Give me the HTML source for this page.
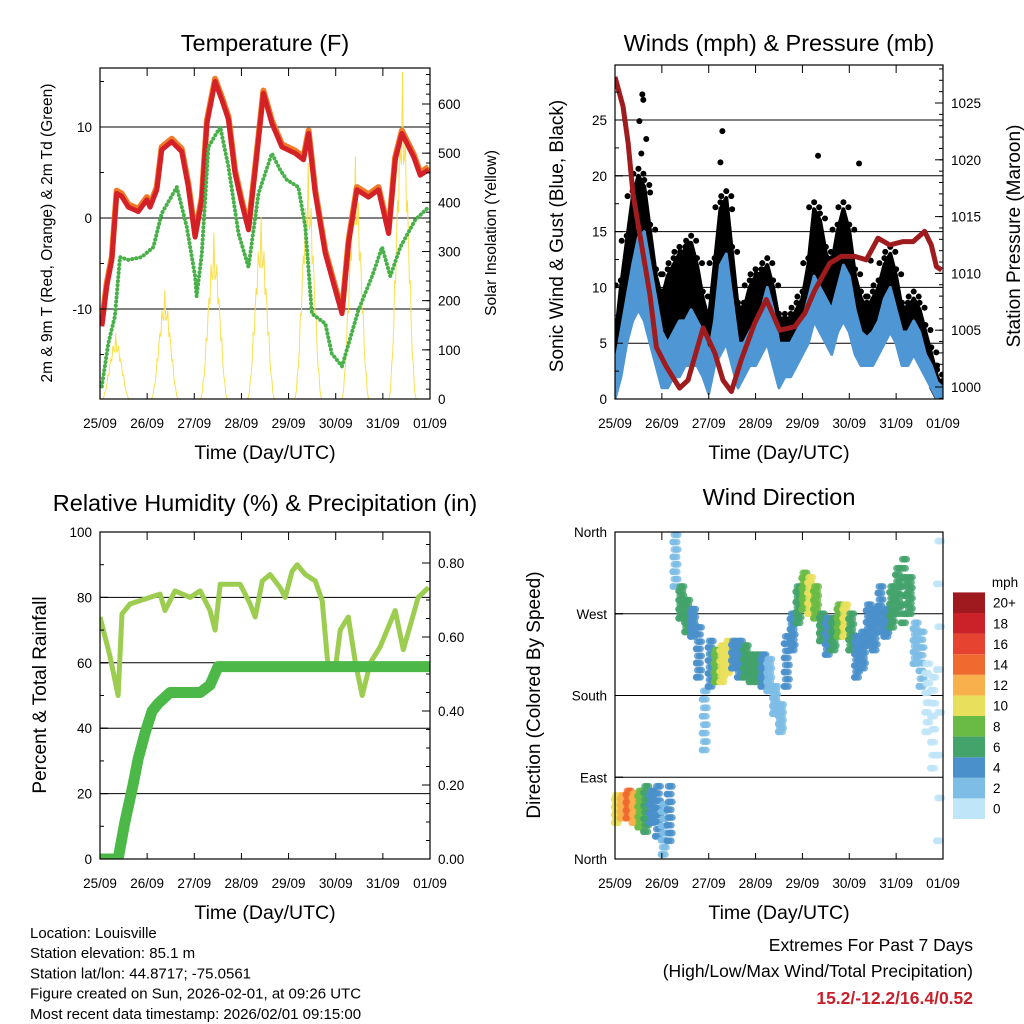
<!DOCTYPE html>
<html><head><meta charset="utf-8"><style>
html,body{margin:0;padding:0;background:#fff;}
svg{display:block;font-family:"Liberation Sans",sans-serif;}
</style></head><body>
<svg id="chart" width="1024" height="1024" viewBox="0 0 1024 1024" xmlns="http://www.w3.org/2000/svg"></svg>
<script>
// ---------- DATA ----------
const dayLabels = ["25/09","26/09","27/09","28/09","29/09","30/09","31/09","01/09"];
const tempT = [0.9,3.4,6,8.5,11,14.4,19.5,23.8,25.5,28.9,31.4,36.5,41.6,45,48.4,51.8,54.4,58.6,62,65.4,68.8,72.2,75.6,79,83.2,87.5,92.6,99.4,103.6,106.2,109.6,114.7,119.8,123.2,126.5,130.8,136.7,141.8,146.9,150.3,153.7,159.7,163,167.3];
const tempV = [-11.9,-7.5,-4.6,2.7,2.4,1.2,0.7,2.0,1.2,3.1,7.5,8.4,7.3,3.4,-2.1,2.0,10.4,15,13,10.8,4.9,1.6,-1.3,5.3,13.7,10.4,7.8,7.1,6.4,9.3,2.7,-3.9,-7.9,-10.5,-2.8,3.1,2.3,3.1,-1.7,6.4,9.3,6.7,4.7,5.3];
const dewT = [0.9,4.2,7.6,10.2,14.4,21.2,27.2,31.4,39.1,44.2,48.4,49.2,51.8,55.2,61.2,65.4,70.5,75.6,80.7,87.5,91.7,95.1,101,104.5,107.9,114.7,118,123.2,131.6,138.5,143.6,147.8,152.9,160.5,167.3];
const dewV = [-18.5,-13.8,-10.8,-4.3,-4.6,-4.3,-3.2,0.5,3.4,-1,-6.4,-8.6,-3.9,7.8,10,5.6,-1.7,-5.4,2.7,7.1,5.3,4.2,3.4,-1,-10.5,-11.6,-14.9,-16.3,-10.1,-6.4,-3.2,-6.4,-3.2,-0.2,1.2];
const solarT = [8,33,58,82,106,130,154];
const solarV = [134,222,338,371,480,493,665];
const pressT = [0,4.1,6.7,9.2,13.5,17.8,21.2,26.3,33.1,37.4,45.1,51.1,55.3,59.6,64.7,71.5,77.5,84.4,92,97.2,102.3,110,115.9,122.8,128.7,134.7,140.7,147.5,152.7,158.6,162,164.6,167.3];
const pressV = [1027.3,1024.7,1021.5,1017,1012.6,1008.2,1003.5,1001.8,999.9,1000.6,1005.2,1003,1000.6,999.6,1002.4,1005.6,1007.7,1005,1005.3,1006.5,1008.5,1010.9,1011.5,1011.5,1011.2,1013.1,1012.5,1012.8,1012.8,1013.7,1012.5,1010.6,1010.3];
const windT = [0,3,6,9,12,15,18,21,24,27,30,33,36,39,42,45,48,51,54,57,60,63,66,69,72,75,78,81,84,87,90,93,96,99,102,105,108,111,114,117,120,123,126,129,132,135,138,141,144,147,150,153,156,159,162,165,168];
const windLo = [0,2,5,7,8,7,5,3,1,1,2,2,3,3,3,2,0.5,3,4,5,3,1,2,3,3,4,5,3,1,2,2,3,4,5,7,6,5,4,6,7,6,4,3,3,3,4,5,6,5,3,3,4,3,2,1,0,0];
const windHi = [3,6,9,12,14.5,15,12,9,6,5,6,7,7,8,7,6,4,7,12,13,9,5,5,6,7,8,10,8,5,5,5,6,7,9,11,10,9,8,10,12,11,8,6,5.5,6,7,9,10,8,6,6,7,6,4,3,1.5,1];
const gustLo = [1,4,7,9,10,9,6,4,3,4,5,5,5,5,5,3,2,5,6,7,5,3,3,4,5,5,6,5,3,3,3,4,5,6,9,8,7,6,8,9,8,5,4,4,4,5,6,7,6,4,4,5,4,3,1,0,0];
const gustHi = [5,10,14,18,20,19,15,11,9,11,12,13,13,14,12,9,7,12,17,18,13,8,8,10,11,11,12,10,7,7,7,8,9,12,17,16,13,12,15,17,15,11,9,8,9,10,12,13,11,8,8,9,8,6,4,2,1];
const gustOutT = [14,14.5,12.5,16,13.5,55,54,104,125,37,40,131,165,18,60];
const gustOutV = [27.3,26.8,24.9,23.3,22,24,21.2,21.8,21.1,14,13,12.4,3,18.5,17];
const rhT = [0,5.1,9.2,11.2,15.3,25.5,30.6,33.1,38.2,45.9,51,56,58.6,61.2,71.3,76.4,79,82.6,86.6,91.7,94.3,97.8,100.4,104.5,109.6,113.1,116.2,119.8,122.3,126.4,130,133.5,137.6,142.7,150.3,154.4,162,167.2];
const rhV = [74,62,50,75,78,80,81,76,82,80,82,76,70,84,84,78,74,85,87,83,80,88,90,87,85,79,58,58,70,74,60,50,60,65,76,64,80,83];
const prT = [0,9.2,12.7,16.8,19.4,22.9,26.5,29.6,35.7,51,56,60.1,168];
const prV = [0,0,0.1,0.2,0.27,0.34,0.40,0.42,0.45,0.45,0.47,0.52,0.52];
const dirT = [1,4,7,10,13,16,19,22,25,28,31,34,37,40,43,46,49,52,55,58,61,64,67,70,73,76,79,82,85,88,91,94,97,100,103,106,109,112,115,118,121,124,127,130,133,136,139,142,145,148,151,154,157,160,163,166];
const dirLo = [40,45,45,40,35,30,40,25,5,20,300,265,250,245,200,120,190,195,195,205,210,200,200,195,195,190,185,160,140,190,230,260,275,270,265,240,225,230,245,245,230,200,210,235,230,250,245,255,270,260,270,215,190,140,100,20];
const dirHi = [70,70,75,72,75,80,75,80,60,80,357,300,285,275,255,185,240,230,235,240,240,240,235,225,225,225,220,190,170,245,270,300,315,310,300,270,265,265,280,280,270,245,250,280,275,300,275,300,320,330,310,260,250,215,200,350];
const dirSpd = [10,12,14,12,8,6,5,4,3,4,3,6,6,5,4,2,4,8,11,10,4,4,6,7,6,5,3,2,2,4,4,6,8,10,8,6,5,6,9,10,6,4,4,4,4,4,5,6,7,7,7,3,2,1,1,0.5];
const cbLabels = ["0","2","4","6","8","10","12","14","16","18","20+"];
const cbColors = ["#bfe5f8","#7dbde6","#4a90cb","#44a36b","#69bb45","#e8e05c","#f8b04c","#f06a30","#e64330","#cb2128","#9f1a1e"];

// ---------- HELPERS ----------
const NS = "http://www.w3.org/2000/svg";
const svg = document.getElementById("chart");
function el(tag, attrs, parent) {
  const e = document.createElementNS(NS, tag);
  for (const k in attrs) e.setAttribute(k, attrs[k]);
  (parent || svg).appendChild(e);
  return e;
}
function lin(d0, d1, r0, r1) { return v => r0 + (v - d0) * (r1 - r0) / (d1 - d0); }
function txt(x, y, s, size, anchor, parent, extra) {
  const t = el("text", Object.assign({x: x, y: y, "font-size": size, "text-anchor": anchor || "middle", fill: "#000"}, extra || {}), parent);
  t.textContent = s;
  return t;
}
function pts(xs, ys, fx, fy) { return xs.map((t, i) => fx(t).toFixed(1) + "," + fy(ys[i]).toFixed(1)).join(" "); }

const defs = el("defs", {});
function panelBase(id, L, R, T, B) {
  const cp = el("clipPath", {id: id}, defs);
  el("rect", {x: L, y: T, width: R - L, height: B - T}, cp);
  const g = el("g", {});
  const plot = el("g", {"clip-path": "url(#" + id + ")"}, g);
  return {g: g, plot: plot};
}
function xAxis(g, fx, L, R, T, B) {
  for (let d = 0; d <= 7; d++) {
    const x = fx(d * 24);
    el("line", {x1: x, x2: x, y1: B, y2: B - 6, stroke: "#000"}, g);
    el("line", {x1: x, x2: x, y1: T, y2: T + 8, stroke: "#000"}, g);
    const lab = txt(x, B + 29, dayLabels[d], 13.5, "middle", g);
    
    
  }
  const t = txt((L + R) / 2, B + 60, "Time (Day/UTC)", 19.5, "middle", g);
  
  
}
function yTicks(g, fy, vals, side, L, R, withGrid, labels, minors) {
  const x = side === "L" ? L : R, dir = side === "L" ? 1 : -1;
  vals.forEach((v, i) => {
    const y = fy(v);
    if (withGrid) el("line", {x1: L, x2: R, y1: y, y2: y, stroke: "#000", "stroke-width": 1}, g);
    el("line", {x1: x, x2: x + dir * 8, y1: y, y2: y, stroke: "#000"}, g);
    if (labels) {
      const t = txt(side === "L" ? x - 8 : x + 8, y + 5, labels[i], 13.5, side === "L" ? "end" : "start", g);
      
      
    }
  });
  (minors || []).forEach(v => {
    const y = fy(v);
    el("line", {x1: x, x2: x + dir * 4, y1: y, y2: y, stroke: "#000"}, g);
  });
}
function rotTitle(g, x, y, s, size) {
  return txt(x, y, s, size, "middle", g, {transform: "rotate(-90 " + x + " " + y + ")"});
}
function range(a, b, s) { const r = []; for (let v = a; v <= b + 1e-9; v += s) r.push(+v.toFixed(4)); return r; }

// ---------- PANEL 1: TEMPERATURE ----------
{
  const L = 100, R = 430, T = 68, B = 399;
  const fx = lin(0, 168, L, R), fy = lin(0, 10, 218, 127), fs = lin(0, 600, 399, 104);
  const p = panelBase("c1", L, R, T, B);
  
  
  yTicks(p.plot, fy, [-10, 0, 10], "L", L, R, true, null);
  solarT.forEach((tp, i) => {
    let d = "";
    for (let k = -7; k <= 7; k += 0.5) {
      const s = Math.cos(k / 7 * Math.PI / 2);
      const v = solarV[i] * s * s * (1 - 0.3 * Math.abs(Math.sin(k * 2.3)));
      d += (d ? "L" : "M") + fx(tp + k).toFixed(1) + "," + fs(v).toFixed(1);
    }
    const sp = el("path", {d: d, fill: "none", stroke: "#f9df4e", "stroke-width": 1}, p.plot);
    
    
  });
  const o = el("polyline", {points: pts(tempT, tempV.map(v => v + 0.3), fx, fy), fill: "none", stroke: "#f07a28", "stroke-width": 6, "stroke-linejoin": "round"}, p.plot);
  
  
  const r = el("polyline", {points: pts(tempT, tempV, fx, fy), fill: "none", stroke: "#d42027", "stroke-width": 5, "stroke-linejoin": "round"}, p.plot);
  
  
  const gd = el("polyline", {points: pts(dewT, dewV, fx, fy), fill: "none", stroke: "#47b048", "stroke-width": 4, "stroke-dasharray": "0.1 4", "stroke-linecap": "round", "stroke-linejoin": "round"}, p.plot);
  
  
  el("rect", {x: L, y: T, width: R - L, height: B - T, fill: "none", stroke: "#000", "stroke-width": 1.2}, p.g);
  yTicks(p.g, fy, [-10, 0, 10], "L", L, R, false, ["-10", "0", "10"], [-15, -5, 5, 15]);
  yTicks(p.g, fs, range(0, 600, 100), "R", L, R, false, range(0, 600, 100).map(String), range(20, 660, 20));
  xAxis(p.g, fx, L, R, T, B);
  const tt = txt(265, 51, "Temperature (F)", 23.5, "middle", p.g);
  
  
  const yl = rotTitle(p.g, 52, 233, "2m & 9m T (Red, Orange) & 2m Td (Green)", 15.5);
  
  
  const yr = rotTitle(p.g, 496, 233, "Solar Insolation (Yellow)", 15.5);
  
  
}

// ---------- PANEL 2: WINDS ----------
{
  const L = 615, R = 943, T = 65, B = 399;
  const fx = lin(0, 168, L, R), fy = lin(0, 25, 399, 120), fp = lin(1000, 1025, 387, 103);
  const p = panelBase("c2", L, R, T, B);
  
  
  yTicks(p.plot, fy, range(5, 25, 5), "L", L, R, true, null);
  const gb = el("polygon", {points: pts(windT, gustHi, fx, fy) + " " + pts(windT.slice().reverse(), gustLo.slice().reverse(), fx, fy), fill: "#000", stroke: "#000", "stroke-width": 4, "stroke-linejoin": "round"}, p.plot);
  
  
  windT.forEach((t, i) => {
    for (let k = 0; k < 3; k++) {
      const c = el("circle", {cx: fx(t) + (k - 1) * 5, cy: fy(gustHi[i]) - 2 - (k === 1 ? 5 : 0), r: 3, fill: "#000"}, p.plot);
      
      
    }
  });
  gustOutT.forEach((t, i) => {
    const c = el("circle", {cx: fx(t), cy: fy(gustOutV[i]), r: 3, fill: "#000"}, p.plot);
    
    
  });
  const wb = el("polygon", {points: pts(windT, windHi, fx, fy) + " " + pts(windT.slice().reverse(), windLo.slice().reverse(), fx, fy), fill: "#4f97d4", stroke: "#4f97d4", "stroke-width": 3, "stroke-linejoin": "round"}, p.plot);
  
  
  const pl = el("polyline", {points: pts(pressT, pressV, fx, fp), fill: "none", stroke: "#9e1b1e", "stroke-width": 5, "stroke-linejoin": "round"}, p.plot);
  
  
  el("rect", {x: L, y: T, width: R - L, height: B - T, fill: "none", stroke: "#000", "stroke-width": 1.2}, p.g);
  yTicks(p.g, fy, range(0, 25, 5), "L", L, R, false, range(0, 25, 5).map(String), range(2.5, 27.5, 5));
  yTicks(p.g, fp, range(1000, 1025, 5), "R", L, R, false, range(1000, 1025, 5).map(String), range(999, 1028, 1));
  xAxis(p.g, fx, L, R, T, B);
  const tt = txt(779, 51, "Winds (mph) & Pressure (mb)", 23.5, "middle", p.g);
  
  
  const yl = rotTitle(p.g, 563, 236, "Sonic Wind & Gust (Blue, Black)", 19);
  
  
  const yr = rotTitle(p.g, 1020, 236, "Station Pressure (Maroon)", 19);
  
  
}

// ---------- PANEL 3: RH & PRECIP ----------
{
  const L = 100, R = 430, T = 532, B = 859;
  const fx = lin(0, 168, L, R), fy = lin(0, 100, 859, 532), fp = lin(0, 0.8, 859, 563);
  const p = panelBase("c3", L, R, T, B);
  
  
  yTicks(p.plot, fy, range(20, 80, 20), "L", L, R, true, null);
  const rl = el("polyline", {points: pts(rhT, rhV, fx, fy), fill: "none", stroke: "#9ccd50", "stroke-width": 5, "stroke-linejoin": "round"}, p.plot);
  
  
  const pr = el("polyline", {points: pts(prT, prV, fx, fp), fill: "none", stroke: "#4bb848", "stroke-width": 11, "stroke-linejoin": "round", "stroke-linecap": "round"}, p.plot);
  
  
  el("rect", {x: L, y: T, width: R - L, height: B - T, fill: "none", stroke: "#000", "stroke-width": 1.2}, p.g);
  yTicks(p.g, fy, range(0, 100, 20), "L", L, R, false, range(0, 100, 20).map(String), range(10, 90, 20));
  yTicks(p.g, fp, range(0, 0.8, 0.2), "R", L, R, false, ["0.00", "0.20", "0.40", "0.60", "0.80"], range(0.05, 0.85, 0.05));
  xAxis(p.g, fx, L, R, T, B);
  const tt = txt(265, 511, "Relative Humidity (%) & Precipitation (in)", 23.5, "middle", p.g);
  
  
  const yl = rotTitle(p.g, 46, 695, "Percent & Total Rainfall", 19);
  
  
}

// ---------- PANEL 4: WIND DIRECTION ----------
{
  const L = 615, R = 943, T = 532, B = 859;
  const fx = lin(0, 168, L, R), fy = lin(0, 360, 859, 532);
  const p = panelBase("c4", L - 5, R + 5, T - 5, B + 5);
  
  
  yTicks(p.plot, fy, [90, 180, 270], "L", L, R, true, null);
  dirT.forEach((t, i) => {
    const bin = Math.min(10, Math.floor(dirSpd[i] / 2));
    for (let h = 0; h < 4; h++) {
      for (let k = 0; k <= 7; k++) {
        const frac = ((k * 5 + h * 3) % 8) / 7;
        const v = dirLo[i] + (dirHi[i] - dirLo[i]) * frac;
        const dx = ((k * 3 + h * 7) % 6 - 2.5) * 0.55;
        const c = el("circle", {cx: fx(t + dx), cy: fy(v), r: 3.4, fill: cbColors[bin], "fill-opacity": 0.8}, p.plot);
        
        
      }
    }
  });
  el("rect", {x: L, y: T, width: R - L, height: B - T, fill: "none", stroke: "#000", "stroke-width": 1.2}, p.g);
  const dl = ["North", "East", "South", "West", "North"];
  [0, 90, 180, 270, 360].forEach((v, i) => {
    el("line", {x1: L, x2: L + 8, y1: fy(v), y2: fy(v), stroke: "#000"}, p.g);
    const t = txt(L - 8, fy(v) + 5, dl[i], 13.5, "end", p.g);
    
    
  });
  xAxis(p.g, fx, L, R, T, B);
  const tt = txt(779, 505, "Wind Direction", 23.5, "middle", p.g);
  
  
  const yl = rotTitle(p.g, 540, 695, "Direction (Colored By Speed)", 19);
  
  
  const cb = el("g", {});
  
  
  const bh = 20.6;
  cbLabels.forEach((lab, i) => {
    const y = 819 - (i + 1) * bh;
    const r = el("rect", {x: 953, y: y, width: 32, height: bh, fill: cbColors[i]}, cb);
    
    
    const t = txt(993, y + bh / 2 + 5, lab, 13.5, "start", cb);
    
    
  });
  const u = txt(1005, 587, "mph", 13.5, "middle", cb);
  
  
}

// ---------- FOOTER ----------
{
  const lines = ["Location: Louisville", "Station elevation: 85.1 m", "Station lat/lon: 44.8717; -75.0561", "Figure created on Sun, 2026-02-01, at 09:26 UTC", "Most recent data timestamp: 2026/02/01 09:15:00"];
  lines.forEach((s, i) => {
    const t = txt(30, 938 + i * 20.2, s, 15, "start");
    
    
  });
  const a = txt(973, 951, "Extremes For Past 7 Days", 17.5, "end");
  
  
  const b = txt(973, 977, "(High/Low/Max Wind/Total Precipitation)", 17.5, "end");
  
  
  const c = txt(973, 1004, "15.2/-12.2/16.4/0.52", 17.5, "end", null, {fill: "#c8202a", "font-weight": "bold"});
  
  
}
</script>
</body></html>
